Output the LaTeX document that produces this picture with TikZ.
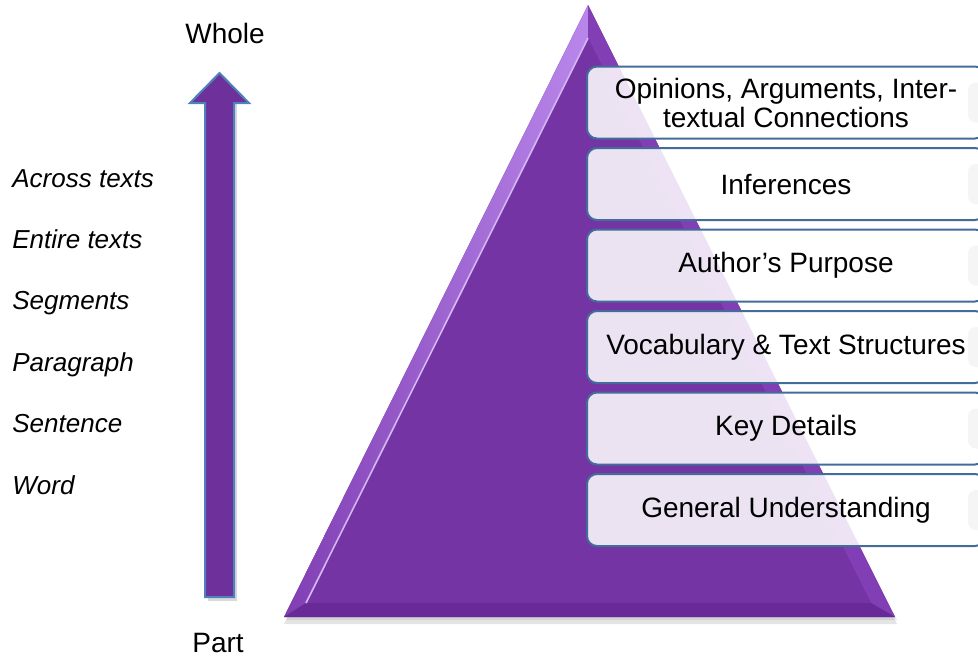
\documentclass[tikz,border=0pt]{standalone}
\usepackage{fontspec}
\setmainfont{Liberation Sans}
\usetikzlibrary{positioning}
\definecolor{pyrPurple}{RGB}{116,52,163}
\definecolor{pyrLight}{RGB}{185,135,235}
\definecolor{pyrMid}{RGB}{128,62,178}
\definecolor{pyrSide}{RGB}{130,62,180}
\definecolor{pyrDark}{RGB}{104,42,150}
\definecolor{arrowEdge}{RGB}{79,129,189}
\definecolor{boxEdge}{RGB}{68,108,155}

\begin{document}
\begin{tikzpicture}[x=0.5pt, y=-0.5pt,
    lvlbox/.style={draw=boxEdge, line width=1pt, rounded corners=5pt, fill=white,
      fill opacity=0.86, text opacity=1, minimum width=199pt, minimum height=36pt,
      inner sep=0pt, align=center, font=\fontsize{14}{14.5}\selectfont},
    scalelbl/.style={anchor=base west, inner sep=0pt, font=\fontsize{13}{15}\selectfont\itshape},
    endlbl/.style={anchor=base, inner sep=0pt, font=\fontsize{14}{16}\selectfont},
    ghost/.style={fill=black!4, rounded corners=4pt}]
\useasboundingbox (0,0) rectangle (978,660);
\clip (0,0) rectangle (978,660);

% pyramid corners
\coordinate (apex) at (588,5);
\coordinate (baseL) at (284,617);
\coordinate (baseR) at (895,617);
\coordinate (inApex) at (588,38);
\coordinate (inL) at (306,603);
\coordinate (inR) at (871,603);

% soft shadows
\fill[black, opacity=0.10] (590,12) -- (284,624) -- (897,624) -- cycle;
\fill[black, opacity=0.08] (590,9) -- (286,620) -- (897,620) -- cycle;
\fill[black, opacity=0.15] (208,100) -- (237,100) -- (237,601) -- (208,601) -- cycle;

% pyramid with bevel
\fill[pyrPurple] (apex) -- (baseL) -- (baseR) -- cycle;
\shade[left color=pyrMid, right color=pyrLight] (apex) -- (baseL) -- (inL) -- (inApex) -- cycle;
\fill[pyrSide] (apex) -- (baseR) -- (inR) -- (inApex) -- cycle;
\fill[pyrDark] (baseL) -- (baseR) -- (inR) -- (inL) -- cycle;
\fill[pyrPurple] (inApex) -- (inL) -- (inR) -- cycle;
\draw[pyrLight!60!white, line width=0.8pt] (inApex) -- (inL);

% part-whole arrow
\coordinate (partEnd) at (219.5,597);
\coordinate (wholeEnd) at (219.5,73);
\filldraw[fill=pyrPurple!95!black, draw=arrowEdge, line width=1pt, line join=miter]
  (205,597) -- (205,103) -- (190,103) -- (wholeEnd) -- (249,103) -- (234,103) -- (234,597) -- cycle;

\node[endlbl] (whole) at (225,43) {Whole};
\node[endlbl] (part) at (218,652) {Part};

% scale of text units
\node[scalelbl] (across) at (12,187) {Across texts};
\node[scalelbl] (entire) at (12,248) {Entire texts};
\node[scalelbl] (segments) at (12,309) {Segments};
\node[scalelbl] (paragraph) at (12,371) {Paragraph};
\node[scalelbl] (sentence) at (12,432) {Sentence};
\node[scalelbl] (word) at (12,494) {Word};

% levels of the pyramid
\node[lvlbox] (lvl6) at (786,510) {General Understanding};
\node[lvlbox, above=3.75pt of lvl6] (lvl5) {Key Details};
\node[lvlbox, above=3.75pt of lvl5] (lvl4) {Vocabulary \& Text Structures};
\node[lvlbox, above=3.75pt of lvl4] (lvl3) {Author’s Purpose};
\node[lvlbox, above=3.75pt of lvl3] (lvl2) {Inferences};
\node[lvlbox, above=3.75pt of lvl2] (lvl1) {Opinions, Arguments, Inter-\\textual Connections};

% faint shapes at the right edge
\fill[ghost] ([xshift=-9pt,yshift=10pt]lvl1.east) rectangle ([xshift=4pt,yshift=-10pt]lvl1.east);
\fill[ghost] ([xshift=-9pt,yshift=10pt]lvl2.east) rectangle ([xshift=4pt,yshift=-10pt]lvl2.east);
\fill[ghost] ([xshift=-9pt,yshift=10pt]lvl3.east) rectangle ([xshift=4pt,yshift=-10pt]lvl3.east);
\fill[ghost] ([xshift=-9pt,yshift=10pt]lvl4.east) rectangle ([xshift=4pt,yshift=-10pt]lvl4.east);
\fill[ghost] ([xshift=-9pt,yshift=10pt]lvl5.east) rectangle ([xshift=4pt,yshift=-10pt]lvl5.east);
\fill[ghost] ([xshift=-9pt,yshift=10pt]lvl6.east) rectangle ([xshift=4pt,yshift=-10pt]lvl6.east);
\end{tikzpicture}
\end{document}
